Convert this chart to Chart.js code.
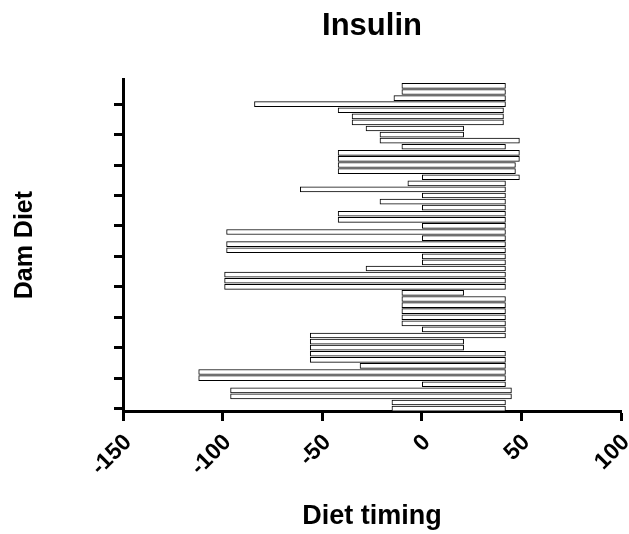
<!DOCTYPE html>
<html>
<head>
<meta charset="utf-8">
<script src="https://cdn.jsdelivr.net/npm/chart.js@4/dist/chart.umd.min.js"></script>
<style>
  html, body { margin: 0; padding: 0; background: #fff; }
  #wrap { width: 629px; height: 534px; }
</style>
</head>
<body>
<div id="wrap"><canvas id="insulin-chart"></canvas></div>
<script>
// one row per animal, top to bottom: diet start and end (days)
var rowStart = [-10, -10, -14, -84, -42, -35, -35, -28, -21, -21,
	-10, -42, -42, -42, -42, 0, -7, -61, 0, -21,
	0, -42, -42, 0, -98, 0, -98, -98, 0, 0,
	-28, -99, -99, -99, -10, -10, -10, -10, -10, -10,
	0, -56, -56, -56, -56, -56, -31, -112, -112, 0,
	-96, -96, -15, -15];
var rowEnd = [42, 42, 42, 42, 41, 41, 41, 21, 21, 49,
	42, 49, 49, 47, 47, 49, 42, 42, 42, 42,
	42, 42, 42, 42, 42, 42, 42, 42, 42, 42,
	42, 42, 42, 42, 21, 42, 42, 42, 42, 42,
	42, 42, 21, 21, 42, 42, 42, 42, 42, 42,
	45, 45, 42, 42];
var xTicks = [-150, -100, -50, 0, 50, 100];
var yTickRows = [4, 9, 14, 19, 24, 29, 34, 39, 44, 49, 54];

var bars = rowStart.map(function (s, i) {
	return { x: [s, rowEnd[i]], y: i + 1 };
});

new Chart(document.getElementById("insulin-chart").getContext('2d'), {
	type: 'bar',
	data: {
		datasets: [{
			data: bars,
			backgroundColor: '#ffffff',
			borderColor: '#000000',
			borderWidth: 1,
			borderSkipped: false,
			barThickness: 5
		}]
	},
	options: {
		indexAxis: 'y',
		responsive: true,
		maintainAspectRatio: false,
		animation: false,
		layout: { padding: { left: 0, right: 8, top: 0, bottom: 0 } },
		plugins: {
			legend: { display: false },
			tooltip: { enabled: false },
			title: {
				display: true,
				fullSize: false,
				text: 'Insulin',
				color: '#000',
				font: { family: 'Liberation Sans, Arial, sans-serif', size: 31, weight: 'bold' },
				padding: { top: 8, bottom: 34 }
			}
		},
		scales: {
			x: {
				type: 'linear',
				min: -150,
				max: 100,
				afterBuildTicks: function (scale) {
					scale.ticks = xTicks.map(function (v) { return { value: v }; });
				},
				afterFit: function (scale) {
					scale.height = 123;
					scale.paddingLeft = 0;
					scale.paddingRight = 0;
				},
				border: { display: true, color: '#000', width: 3 },
				grid: { drawOnChartArea: false, drawTicks: true, tickLength: 10, tickWidth: 3, tickColor: '#000' },
				ticks: {
					color: '#000',
					font: { family: 'Liberation Sans, Arial, sans-serif', size: 23, weight: 'bold' },
					minRotation: 45,
					maxRotation: 45,
					padding: 8,
					labelOffset: 5
				},
				title: {
					display: true,
					text: 'Diet timing',
					color: '#000',
					font: { family: 'Liberation Sans, Arial, sans-serif', size: 27, weight: 'bold' },
					padding: { top: 0, bottom: 1 }
				}
			},
			y: {
				type: 'linear',
				reverse: true,
				offset: false,
				min: -0.1,
				max: 54.4,
				afterBuildTicks: function (scale) {
					scale.ticks = yTickRows.map(function (v) { return { value: v }; });
				},
				afterFit: function (scale) {
					scale.width = 123;
					scale.paddingTop = 0;
					scale.paddingBottom = 0;
				},
				border: { display: true, color: '#000', width: 3 },
				grid: { offset: false, drawOnChartArea: false, drawTicks: true, tickLength: 9, tickWidth: 3, tickColor: '#000' },
				ticks: { display: false },
				title: {
					display: true,
					text: 'Dam Diet',
					color: '#000',
					font: { family: 'Liberation Sans, Arial, sans-serif', size: 25, weight: 'bold' },
					padding: { top: 10, bottom: 0 }
				}
			}
		}
	}
});
</script>
</body>
</html>
